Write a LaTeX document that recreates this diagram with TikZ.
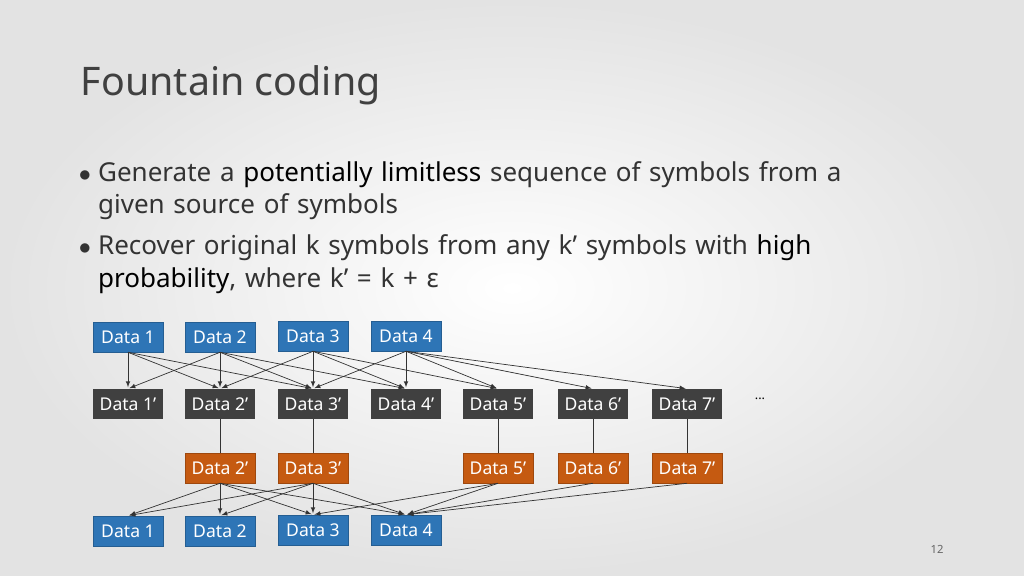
\documentclass[tikz,border=0pt]{standalone}
\usepackage{fontspec}
\setmainfont{Noto Sans}
\usetikzlibrary{arrows}
\definecolor{srcblue}{RGB}{46,117,182}
\definecolor{encgray}{RGB}{64,64,64}
\definecolor{recorange}{RGB}{197,90,17}
\begin{document}
\begin{tikzpicture}[x=0.025cm,y=-0.025cm,
    databox/.style={minimum width=1.75cm,minimum height=0.75cm,inner sep=0pt,
        text=white,font=\fontsize{12.5}{14}\selectfont},
    src/.style={databox,fill=srcblue,draw=srcblue!80!black},
    enc/.style={databox,fill=encgray},
    rec/.style={databox,fill=recorange,draw=recorange!80!black},
    link/.style={-latex,black!80,line width=0.5pt,shorten >=1pt}]
            \useasboundingbox (0,0) rectangle (1024,576);
            \shade[inner color=white,outer color=gray!22] (0,0) rectangle (1024,576);

            \node[anchor=west,font=\fontsize{28}{32}\selectfont,text=black!75] (title) at (76,85) {Fountain coding};
            \node[anchor=north west,text width=20.5cm,font=\fontsize{18.5}{23}\selectfont,text=black!80] (bullets) at (58,133)
            {\begin{itemize}\setlength{\itemsep}{2pt}
             \item[$\bullet$] Generate a \textcolor{black}{potentially limitless} sequence of symbols from a given source of symbols
             \item[$\bullet$] Recover original k symbols from any k’ symbols with \textcolor{black}{high probability}, where k’ = k + \textbf{ε}
             \end{itemize}};

            % source symbols
            \foreach \i/\x/\y in {1/128/337,2/220/337,3/313/336,4/406/336}
                \node[src] (s\i) at (\x,\y) {Data \i};
            % encoded symbols
            \foreach \i/\x in {1/128,2/220,3/313,4/406,5/498,6/593,7/687}
                \node[enc] (e\i) at (\x,404) {Data \i'};
            \node[font=\small] (dots) at (760,399) {...};
            % received symbols
            \foreach \i/\x in {2/220,3/313,5/498,6/593,7/687}
                \node[rec] (r\i) at (\x,468) {Data \i'};
            % decoded symbols
            \foreach \i/\x/\y in {1/128/531,2/220/531,3/313/530,4/406/530}
                \node[src] (d\i) at (\x,\y) {Data \i};

            \foreach \a/\b in {1/1,1/2,1/3,2/1,2/2,2/3,2/4,3/2,3/3,3/4,3/5,4/3,4/4,4/5,4/6,4/7}
                \draw[link] (s\a.south) -- (e\b.north);
            \foreach \i in {2,3,5,6,7}
                \draw[black!80,line width=0.5pt] (e\i.south) -- (r\i.north);
            \foreach \a/\b in {2/1,2/2,2/3,2/4,3/1,3/2,3/3,3/4,5/3,5/4,6/4,7/4}
                \draw[link] (r\a.south) -- (d\b.north);

            \node[font=\footnotesize,text=black!60] (page) at (937,549) {12};
        \end{tikzpicture}
\end{document}
